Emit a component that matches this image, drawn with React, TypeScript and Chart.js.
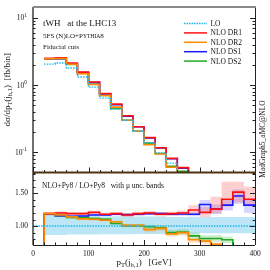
import React, { useEffect, useRef } from "react";
import { Chart, registerables } from "chart.js";

Chart.register(...registerables);

// ---- data -------------------------------------------------------------
const BIN_LOW = [0, 20, 40, 60, 80, 100, 120, 140, 160, 180, 200, 220, 240, 260, 280, 300, 320, 340, 360, 380];
const X_MAX = 400;

// main panel: dσ/dpT [fb/bin]
const LO_MAIN = [0, 2.05, 2.13, 1.79, 1.32, 0.93, 0.64, 0.44, 0.3, 0.205, 0.138, 0.098, 0.069, 0.048, 0.035, 0.025, 0.018, 0.013, 0.009, 0.0065];
const DR1_MAIN = [0, 2.5, 2.55, 2.13, 1.56, 1.11, 0.75, 0.52, 0.35, 0.24, 0.165, 0.117, 0.081, 0.059, 0.044, 0.03, 0.023, 0.018, 0.014, 0.009];
const DR2_MAIN = [0, 2.45, 2.48, 2.04, 1.47, 1.02, 0.7, 0.47, 0.3, 0.205, 0.13, 0.094, 0.06, 0.043, 0.028, 0.019, 0.013, 0.008, 0.005, 0.004];
const DS1_MAIN = [0, 2.42, 2.47, 2.06, 1.53, 1.09, 0.74, 0.51, 0.345, 0.24, 0.163, 0.116, 0.08, 0.058, 0.041, 0.033, 0.023, 0.017, 0.013, 0.0086];
const DS2_MAIN = [0, 2.42, 2.47, 2.02, 1.49, 1.03, 0.7, 0.45, 0.3, 0.205, 0.137, 0.096, 0.062, 0.052, 0.03, 0.02, 0.015, 0.01, 0.006, 0.004];

// ratio panel: NLO+Py8 / LO+Py8
const LO_RATIO = [1, 1, 1, 1, 1, 1, 1, 1, 1, 1, 1, 1, 1, 1, 1, 1, 1, 1, 1, 1];
const DR1_RATIO = [0, 1.19, 1.2, 1.19, 1.19, 1.21, 1.18, 1.19, 1.17, 1.19, 1.2, 1.18, 1.19, 1.2, 1.245, 1.21, 1.26, 1.41, 1.52, 1.41];
const DS1_RATIO = [0, 1.18, 1.16, 1.15, 1.155, 1.17, 1.17, 1.18, 1.175, 1.18, 1.19, 1.19, 1.18, 1.185, 1.18, 1.33, 1.26, 1.32, 1.46, 1.32];
const DS2_RATIO = [0, 1.18, 1.16, 1.13, 1.13, 1.115, 1.105, 1.04, 1.005, 1.005, 0.99, 0.975, 0.9, 0.91, 0.85, 0.81, 0.81, 0.79, 0.65, 0.65];
const DR2_RATIO = [0, 1.19, 1.17, 1.14, 1.11, 1.105, 1.09, 1.065, 1.01, 1.01, 0.945, 0.965, 0.88, 0.9, 0.79, 0.77, 0.72, 0.6, 0.6, 0.6];

// scale-uncertainty bands (ratio panel)
const LO_BAND_UP = [null, 1.16, 1.16, 1.16, 1.155, 1.155, 1.15, 1.15, 1.15, 1.145, 1.145, 1.145, 1.14, 1.14, 1.14, 1.14, 1.14, 1.14, 1.14, 1.14];
const LO_BAND_DN = [null, 0.865, 0.865, 0.87, 0.87, 0.87, 0.875, 0.875, 0.875, 0.88, 0.88, 0.88, 0.885, 0.885, 0.885, 0.89, 0.89, 0.89, 0.89, 0.89];
const DR1_BAND_UP = [null, 1.215, 1.225, 1.215, 1.215, 1.235, 1.205, 1.215, 1.2, 1.22, 1.23, 1.21, 1.22, 1.24, 1.32, 1.29, 1.45, 1.68, 1.68, 1.6];
const DR1_BAND_DN = [null, 1.165, 1.175, 1.165, 1.165, 1.185, 1.155, 1.165, 1.14, 1.16, 1.17, 1.15, 1.16, 1.16, 1.17, 1.14, 1.19, 1.3, 1.36, 1.33];
const DS1_BAND_UP = [null, 1.195, 1.175, 1.165, 1.17, 1.185, 1.185, 1.195, 1.19, 1.2, 1.21, 1.21, 1.2, 1.21, 1.21, 1.4, 1.33, 1.4, 1.56, 1.42];
const DS1_BAND_DN = [null, 1.165, 1.145, 1.135, 1.14, 1.155, 1.155, 1.165, 1.16, 1.16, 1.17, 1.17, 1.16, 1.16, 1.15, 1.2, 1.19, 1.24, 1.34, 1.2];
const DS2_BAND_UP = [null, 1.2, 1.18, 1.15, 1.15, 1.135, 1.125, 1.06, 1.03, 1.03, 1.02, 1.01, 0.94, 0.95, 0.9, 0.86, 0.86, 0.84, 0.7, 0.7];
const DS2_BAND_DN = [null, 1.16, 1.14, 1.11, 1.11, 1.095, 1.085, 1.02, 0.98, 0.98, 0.96, 0.94, 0.86, 0.87, 0.8, 0.76, 0.76, 0.74, 0.5, 0.5];
const DR2_BAND_UP = [null, 1.21, 1.19, 1.16, 1.13, 1.12, 1.11, 1.085, 1.03, 1.03, 0.965, 0.985, 0.9, 0.92, 0.82, 0.8, 0.75, 0.65, 0.65, 0.65];
const DR2_BAND_DN = [null, 1.17, 1.15, 1.12, 1.09, 1.08, 1.07, 1.045, 0.98, 0.98, 0.9, 0.92, 0.84, 0.85, 0.74, 0.72, 0.68, 0.5, 0.5, 0.5];

const X_TICKS = [0, 100, 200, 300, 400];
const MAIN_EXPONENTS = [1, 0, -1];
const RATIO_TICKS = [1.5, 1.0];
const LEGEND_LABELS = ["LO", "NLO DR1", "NLO DR2", "NLO DS1", "NLO DS2"];

// ---- styles -----------------------------------------------------------
const C_LO = "#1cb4ea";
const C_DR1 = "#ff1010";
const C_DR2 = "#ff8a00";
const C_DS1 = "#1a1aff";
const C_DS2 = "#22aa22";
const SERIF = '"Liberation Serif", "DejaVu Serif", serif';
const TXT = "#151515";

type Part = { t: string; s: number; dy?: number };

function steps(vals: (number | null)[]) {
  const pts: { x: number; y: number }[] = [];
  let last = 0;
  vals.forEach((v, i) => {
    if (v !== null && v !== undefined) {
      pts.push({ x: BIN_LOW[i], y: v });
      last = v;
    }
  });
  pts.push({ x: X_MAX, y: last });
  return pts;
}

function drawRich(ctx: CanvasRenderingContext2D, parts: Part[], x: number, y: number, align: string, rot = 0) {
  ctx.save();
  ctx.translate(x, y);
  ctx.rotate(rot);
  let w = 0;
  for (const p of parts) {
    ctx.font = `${p.s}px ${SERIF}`;
    w += ctx.measureText(p.t).width;
  }
  let cx = align === "left" ? 0 : align === "center" ? -w / 2 : -w;
  ctx.textAlign = "left";
  ctx.textBaseline = "alphabetic";
  ctx.fillStyle = TXT;
  for (const p of parts) {
    ctx.font = `${p.s}px ${SERIF}`;
    ctx.fillText(p.t, cx, p.dy || 0);
    cx += ctx.measureText(p.t).width;
  }
  ctx.restore();
}

const decor = {
  id: "decor",
  afterDraw(chart: any) {
    const ctx: CanvasRenderingContext2D = chart.ctx;
    const xs = chart.scales.x;
    const ym = chart.scales.ym;
    const yr = chart.scales.yr;
    const L = xs.left;
    const R = xs.right;
    ctx.save();

    // ticks
    ctx.strokeStyle = "#222";
    ctx.lineWidth = 1;
    const hline = (x0: number, x1: number, y: number) => {
      ctx.beginPath();
      ctx.moveTo(x0, Math.round(y) + 0.5);
      ctx.lineTo(x1, Math.round(y) + 0.5);
      ctx.stroke();
    };
    const vline = (x: number, y0: number, y1: number) => {
      ctx.beginPath();
      ctx.moveTo(Math.round(x) + 0.5, y0);
      ctx.lineTo(Math.round(x) + 0.5, y1);
      ctx.stroke();
    };
    for (let k = -2; k <= 1; k++) {
      for (let m = 1; m <= 9; m++) {
        const v = m * Math.pow(10, k);
        if (v < ym.min || v > ym.max) continue;
        const y = ym.getPixelForValue(v);
        const len = m === 1 ? 5 : 2.5;
        hline(L, L + len, y);
        hline(R - len, R, y);
      }
    }
    for (let i = 8; i <= 18; i++) {
      const v = i / 10;
      if (v < yr.min || v > yr.max) continue;
      const y = yr.getPixelForValue(v);
      const len = i === 10 || i === 15 ? 5 : 2.5;
      hline(L, L + len, y);
      hline(R - len, R, y);
    }
    for (let v = 0; v <= 400; v += 20) {
      const x = xs.getPixelForValue(v);
      const len = v % 100 === 0 ? 5 : 2.5;
      vline(x, ym.bottom - len, ym.bottom);
      vline(x, yr.bottom - len, yr.bottom);
    }

    // frame
    ctx.strokeStyle = "#222";
    ctx.lineWidth = 1.3;
    ctx.beginPath();
    ctx.moveTo(L, ym.top);
    ctx.lineTo(L, yr.bottom);
    ctx.stroke();
    ctx.lineWidth = 1;
    ctx.beginPath();
    ctx.moveTo(R + 0.5, ym.top);
    ctx.lineTo(R + 0.5, yr.bottom);
    ctx.stroke();
    ctx.beginPath();
    ctx.moveTo(L, yr.bottom + 0.5);
    ctx.lineTo(R, yr.bottom + 0.5);
    ctx.stroke();
    ctx.strokeStyle = "#8a8a8a";
    ctx.lineWidth = 2;
    ctx.beginPath();
    ctx.moveTo(L, ym.top);
    ctx.lineTo(R + 1, ym.top);
    ctx.stroke();
    ctx.strokeStyle = "#4e3215";
    ctx.lineWidth = 2;
    ctx.beginPath();
    ctx.moveTo(L, ym.bottom);
    ctx.lineTo(R + 1, ym.bottom);
    ctx.stroke();

    // tick labels
    ctx.fillStyle = TXT;
    ctx.font = `7.5px ${SERIF}`;
    ctx.textAlign = "center";
    ctx.textBaseline = "middle";
    for (const v of X_TICKS) ctx.fillText(String(v), xs.getPixelForValue(v), yr.bottom + 9);
    ctx.textAlign = "right";
    for (const v of RATIO_TICKS) ctx.fillText(v.toFixed(2), L - 5, yr.getPixelForValue(v));
    for (const e of MAIN_EXPONENTS) {
      const y = ym.getPixelForValue(Math.pow(10, e));
      drawRich(ctx, [{ t: "10", s: 7.5 }, { t: String(e), s: 5.5, dy: -3.5 }], L - 6, y + 2.5, "right");
    }

    // axis titles
    drawRich(
      ctx,
      [
        { t: "dσ/dp", s: 9 },
        { t: "T", s: 6.5, dy: 2 },
        { t: "(j", s: 9 },
        { t: "b,1", s: 6.5, dy: 2 },
        { t: ")  [fb/bin]", s: 9 },
      ],
      10,
      (ym.top + ym.bottom) / 2,
      "center",
      -Math.PI / 2
    );
    drawRich(
      ctx,
      [
        { t: "p", s: 9 },
        { t: "T", s: 6.5, dy: 2 },
        { t: "(j", s: 9 },
        { t: "b,1", s: 6.5, dy: 2 },
        { t: ")   [GeV]", s: 9 },
      ],
      (L + R) / 2,
      265,
      "center"
    );
    drawRich(ctx, [{ t: "MadGraph5_aMC@NLO", s: 7.5 }], R + 10, 139, "center", -Math.PI / 2);

    // panel texts
    drawRich(ctx, [{ t: "tWH   at the LHC13", s: 9 }], L + 10, 26, "left");
    drawRich(
      ctx,
      [
        { t: "5FS (N)LO+P", s: 7 },
        { t: "YTHIA", s: 5.6 },
        { t: "8", s: 7 },
      ],
      L + 10,
      37.5,
      "left"
    );
    drawRich(ctx, [{ t: "Fiducial cuts", s: 7 }], L + 10, 48.5, "left");
    drawRich(ctx, [{ t: "NLO+Py8 / LO+Py8   with μ unc. bands", s: 7.5 }], L + 9, 187.5, "left");

    // legend
    const lcol = [C_LO, C_DR1, C_DR2, C_DS1, C_DS2];
    LEGEND_LABELS.forEach((lab, i) => {
      const y = 23.5 + i * 9.4;
      ctx.strokeStyle = lcol[i];
      ctx.lineWidth = 1.5;
      ctx.setLineDash(i === 0 ? [1.5, 1] : []);
      ctx.beginPath();
      ctx.moveTo(184, y);
      ctx.lineTo(207, y);
      ctx.stroke();
      ctx.setLineDash([]);
      drawRich(ctx, [{ t: lab, s: 7.5 }], 210.5, y + 2.5, "left");
    });
    ctx.restore();
  },
};

function lineDs(data: any[], color: string, axis: string, order: number, dashed = false) {
  return {
    data: steps(data),
    yAxisID: axis,
    borderColor: color,
    borderWidth: dashed ? 1.4 : 1.6,
    borderDash: dashed ? [1.5, 1.2] : [],
    stepped: "before",
    pointRadius: 0,
    fill: false,
    order,
  };
}

function bandDs(up: any[], dn: any[], color: string, order: number) {
  return [
    {
      data: steps(up),
      yAxisID: "yr",
      borderWidth: 0,
      borderColor: "rgba(0,0,0,0)",
      backgroundColor: color,
      stepped: "before",
      pointRadius: 0,
      fill: "+1",
      order,
    },
    {
      data: steps(dn),
      yAxisID: "yr",
      borderWidth: 0,
      borderColor: "rgba(0,0,0,0)",
      backgroundColor: color,
      stepped: "before",
      pointRadius: 0,
      fill: false,
      order,
    },
  ];
}

export default function App() {
  const ref = useRef<HTMLCanvasElement>(null);
  useEffect(() => {
    document.body.style.margin = "0";
    const datasets: any[] = [
      // main panel
      lineDs(LO_MAIN, C_LO, "ym", 1, true),
      lineDs(DR2_MAIN, C_DR2, "ym", 2),
      lineDs(DR1_MAIN, C_DR1, "ym", 3),
      lineDs(DS1_MAIN, C_DS1, "ym", 4),
      lineDs(DS2_MAIN, C_DS2, "ym", 5),
      // ratio panel lines
      lineDs(LO_RATIO, C_LO, "yr", 1, true),
      lineDs(DR2_RATIO, C_DR2, "yr", 2),
      lineDs(DR1_RATIO, C_DR1, "yr", 3),
      lineDs(DS1_RATIO, C_DS1, "yr", 4),
      lineDs(DS2_RATIO, C_DS2, "yr", 5),
      // bands
      ...bandDs(DR1_BAND_UP, DR1_BAND_DN, "rgba(255,80,80,0.28)", 10),
      ...bandDs(DS1_BAND_UP, DS1_BAND_DN, "rgba(90,90,255,0.25)", 11),
      ...bandDs(DS2_BAND_UP, DS2_BAND_DN, "rgba(60,180,60,0.25)", 12),
      ...bandDs(DR2_BAND_UP, DR2_BAND_DN, "rgba(255,160,60,0.28)", 13),
      ...bandDs(LO_BAND_UP, LO_BAND_DN, "rgba(160,220,242,0.7)", 20),
    ];
    const hidden = { display: false };
    const chart = new Chart(ref.current!, {
      type: "line",
      data: { datasets },
      plugins: [decor],
      options: {
        animation: false,
        responsive: true,
        maintainAspectRatio: false,
        devicePixelRatio: 1,
        layout: { padding: { left: 0, right: 15, top: 7, bottom: 0 } },
        plugins: { legend: { display: false }, tooltip: { enabled: false } },
        scales: {
          x: {
            type: "linear",
            min: 0,
            max: X_MAX,
            ticks: hidden,
            grid: hidden,
            border: hidden,
            afterFit: (s: any) => {
              s.height = 25;
            },
          },
          yr: {
            type: "linear",
            position: "left",
            stack: "panels",
            stackWeight: 72.5,
            weight: 1,
            min: 0.71,
            max: 1.82,
            bounds: "data",
            ticks: hidden,
            grid: hidden,
            border: hidden,
            afterFit: (s: any) => {
              s.width = 33;
            },
          },
          ym: {
            type: "logarithmic",
            position: "left",
            stack: "panels",
            stackWeight: 165.5,
            weight: 2,
            min: 0.05,
            max: 14.5,
            bounds: "data",
            ticks: hidden,
            grid: hidden,
            border: hidden,
            afterFit: (s: any) => {
              s.width = 33;
            },
          },
        },
      } as any,
    });
    return () => chart.destroy();
  }, []);
  return (
    <div style={{ position: "fixed", left: 0, top: 0, width: 270, height: 270, background: "#fff" }}>
      <canvas ref={ref} />
    </div>
  );
}
